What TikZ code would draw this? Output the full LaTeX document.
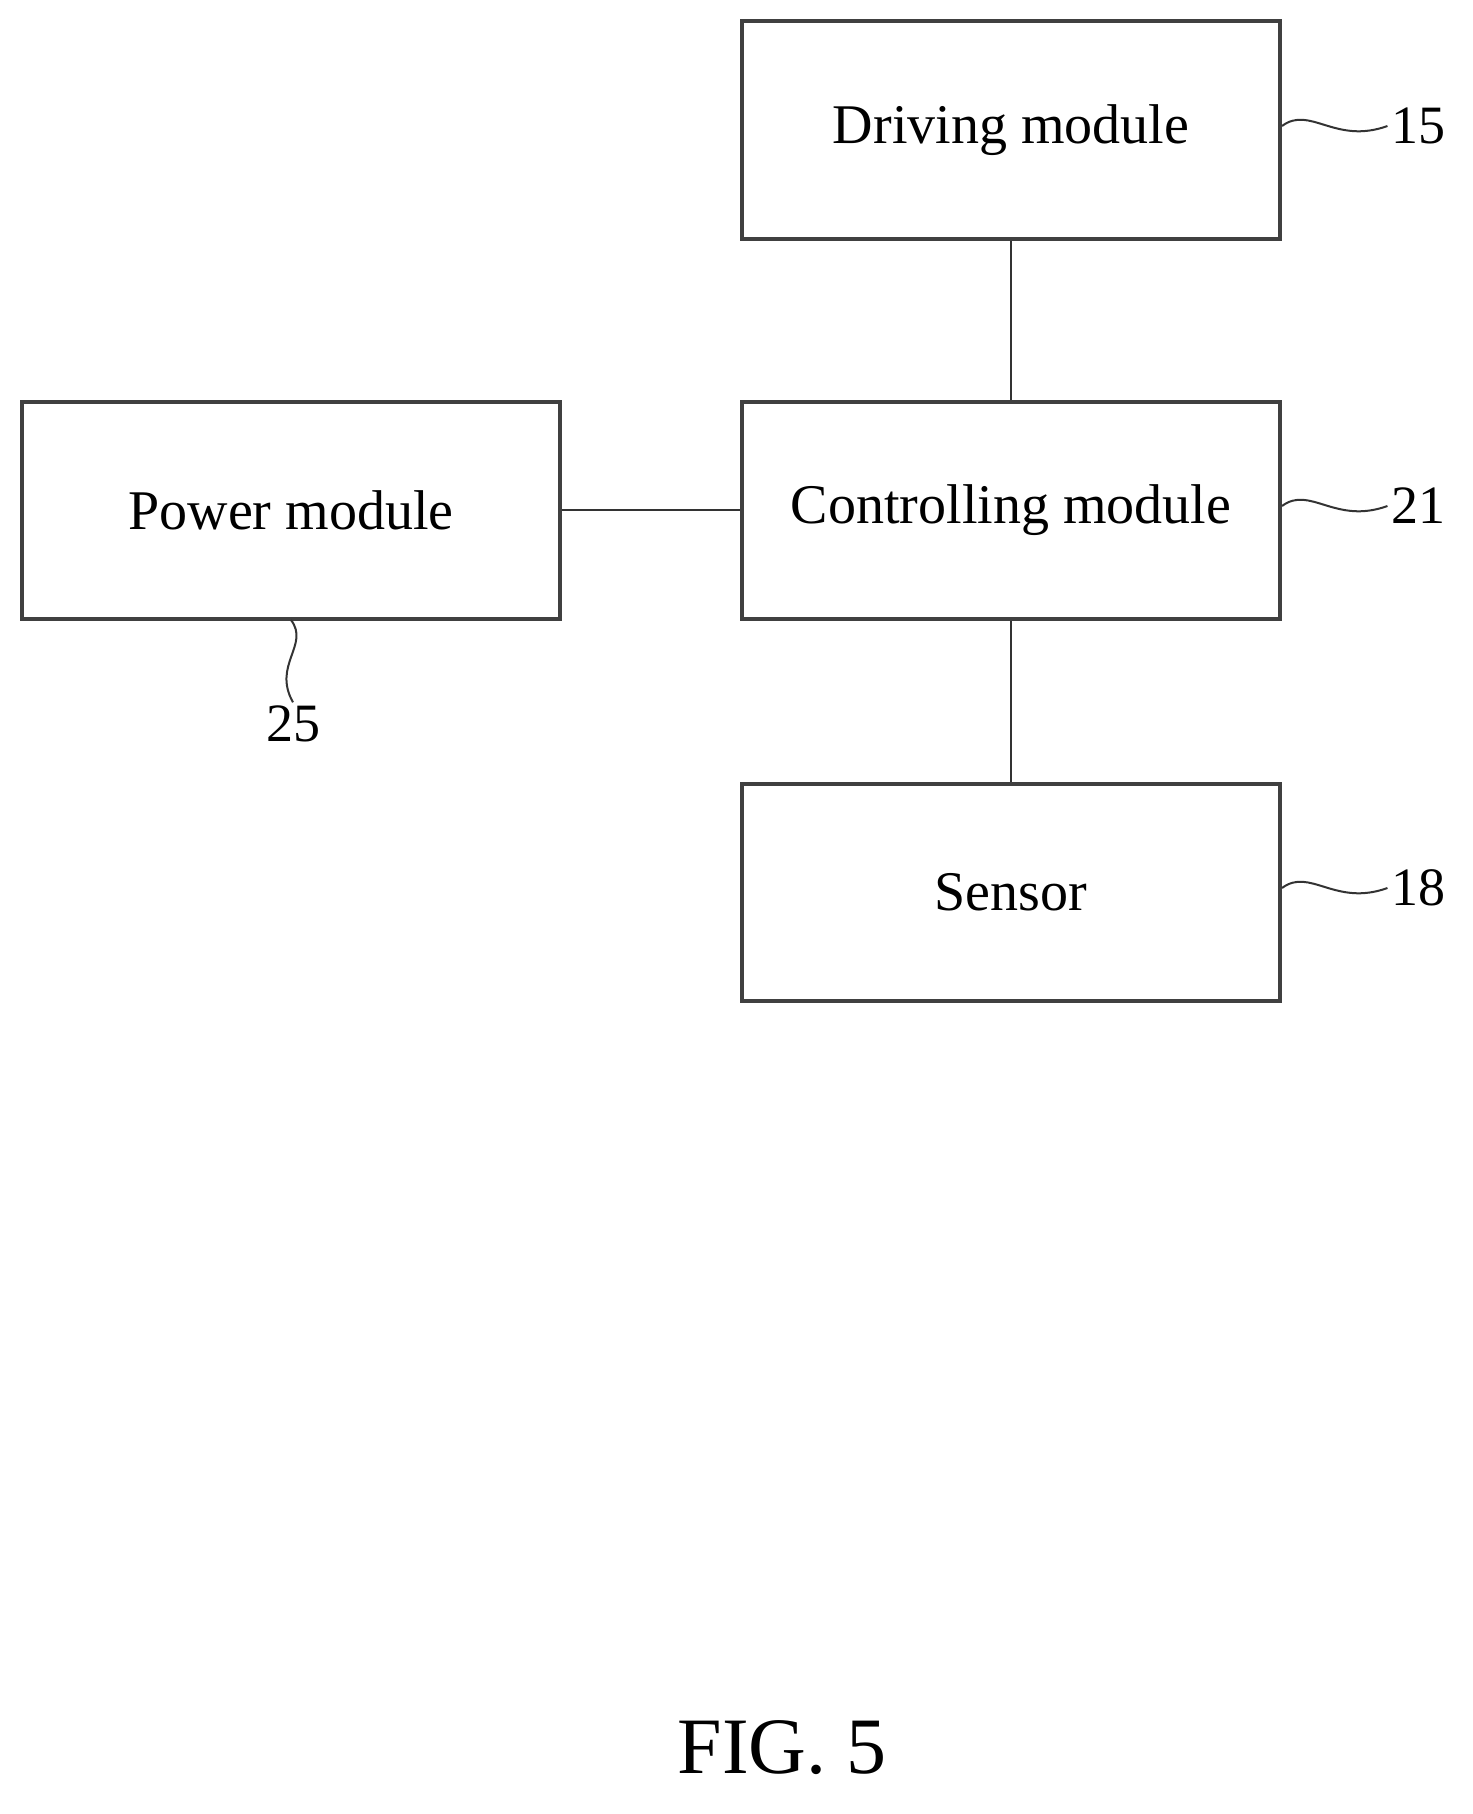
\documentclass[tikz,border=0pt]{standalone}
\usepackage{fontspec}
\setmainfont{Liberation Serif}
\begin{document}
\begin{tikzpicture}[x=1pt,y=-1pt,
  box/.style={draw=black!75,line width=4pt,minimum width=538pt,minimum height=217pt,inner sep=0pt,font=\fontsize{56}{60}\selectfont},
  lbl/.style={font=\fontsize{54}{58}\selectfont},
  ln/.style={line width=2pt,black!80}]
\useasboundingbox (0,0) rectangle (1472,1814);
\node[box] (drv) at (1011,130) {Driving module};
\node[box] (ctl) at (1011,510) {Controlling module};
\node[box] (pwr) at (291,510) {Power module};
\node[box] (sen) at (1011,892) {Sensor};
\draw[ln] (drv.south) -- (ctl.north);
\draw[ln] (ctl.south) -- (sen.north);
\draw[ln] (pwr.east) -- (ctl.west);
\node[lbl] (l15) at (1418,126) {15};
\node[lbl] (l21) at (1418,506) {21};
\node[lbl] (l18) at (1418,888) {18};
\node[lbl] (l25) at (293,724) {25};
\coordinate (a15) at (1282,126);
\coordinate (a21) at (1282,506);
\coordinate (a18) at (1282,888);
\coordinate (a25) at (291,620);
\draw[ln] (a15) .. controls (1310,105) and (1335,145) .. (l15.west);
\draw[ln] (a21) .. controls (1310,485) and (1335,525) .. (l21.west);
\draw[ln] (a18) .. controls (1310,867) and (1335,907) .. (l18.west);
\draw[ln] (a25) .. controls (310,645) and (272,665) .. (l25.north);
\node[font=\fontsize{80}{84}\selectfont] (fig) at (782,1748) {FIG. 5};
\end{tikzpicture}
\end{document}
